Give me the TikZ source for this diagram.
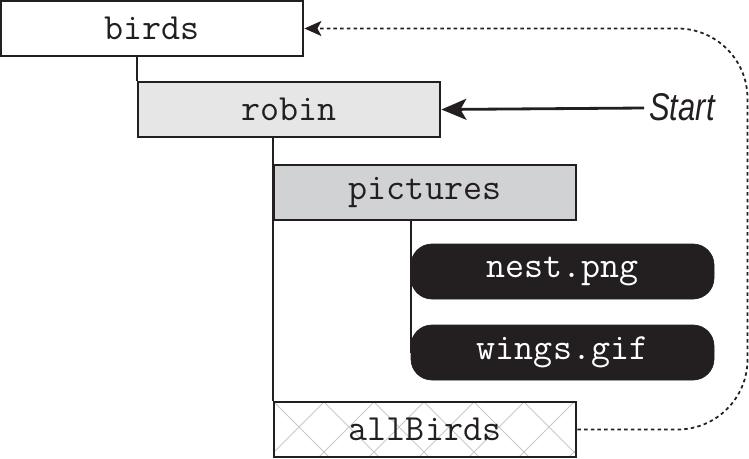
\documentclass[tikz,border=0pt]{standalone}
\usepackage{fontspec}
\setmainfont{Liberation Sans}
\usetikzlibrary{arrows.meta}
\definecolor{ink}{HTML}{231F20}
\definecolor{robinfill}{HTML}{E6E6E6}
\definecolor{picfill}{HTML}{D1D2D4}
\definecolor{hatch}{HTML}{C8C8C8}

\begin{document}
\begin{tikzpicture}[auto,
    folder/.style ={rectangle, draw=ink, line width=1.6pt, minimum width=6.04cm,
                    minimum height=1.1cm, inner sep=0pt, text=ink,
                    font=\ttfamily\fontsize{21}{22}\selectfont},
    picfile/.style ={rectangle, rounded corners=0.42cm, fill=ink, draw=ink,
                    minimum width=6.06cm, minimum height=1.1cm, inner sep=0pt,
                    text=white, font=\ttfamily\fontsize{21}{22}\selectfont},
    branch/.style ={draw=ink, line width=1.1pt}]
   \useasboundingbox (0,0) rectangle (14.98,-9.18);
   % hatching behind allBirds
   \begin{scope}
     \clip (5.48,-8.04) rectangle (11.52,-9.14);
     \foreach \i in {0,...,8} {
       \draw[hatch, line width=0.5pt] (4.98+\i,-7.54) -- ++(2,-2);
       \draw[hatch, line width=0.5pt] (4.98+\i,-7.54) -- ++(-2,-2);
     }
   \end{scope}
   \node[folder, fill=white] (birds) at (3.04,-0.57) {birds};
   \node[folder, fill=robinfill] (robin) at (5.78,-2.19) {robin};
   \node[folder, fill=picfill] (pictures) at (8.5,-3.85) {pictures};
   \node[picfile] (nest) at (11.25,-5.43) {nest.png};
   \node[picfile] (wings) at (11.25,-7.05) {wings.gif};
   \node[folder] (allBirds) at (8.5,-8.59) {allBirds};
   \node[text=ink, inner sep=0pt, xscale=0.8,
         font=\itshape\fontsize{22}{24}\selectfont] (start) at (13.64,-2.14) {Start};
   \coordinate (bend) at (14.95,-5);
   % tree lines
   \draw[branch] (robin.north west |- birds.south) -- (robin.north west);
   \draw[branch] (pictures.north west |- robin.south) -- (allBirds.north west);
   \draw[branch] (nest.north west |- pictures.south) -- (wings.west);
   % arrows
   \draw[ink, line width=1.6pt, -{Stealth[length=0.5cm, width=0.42cm, inset=0.12cm]}]
     (start.west) ++(-0.1,-0.02) -- (robin.east);
   \draw[ink, line width=1pt, dash pattern=on 2pt off 1.8pt, rounded corners=1.4cm,
         -{Stealth[length=0.34cm, width=0.3cm, inset=0.08cm]}]
     (allBirds.east) -| (bend) |- (birds.east);
 \end{tikzpicture}
\end{document}
